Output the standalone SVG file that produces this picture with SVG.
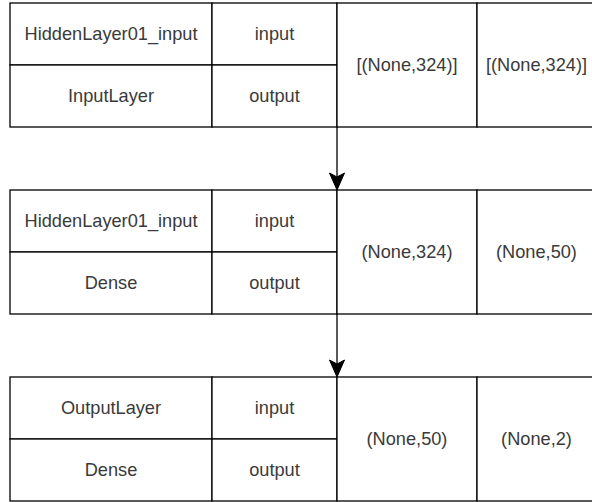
<svg xmlns="http://www.w3.org/2000/svg" width="592" height="502" viewBox="0 0 592 502">
<style>
.cell{fill:#ffffff;stroke:#000000;stroke-width:1.3}
.t{font-family:"Liberation Sans",Arial,sans-serif;font-size:18.2px;fill:#3a3a3a;text-anchor:middle}
.edge{stroke:#000000;stroke-width:1.3;fill:none}
.head{fill:#000000;stroke:#000000;stroke-width:1}
</style>
<rect width="592" height="502" fill="#ffffff"/>
<g id="node-input-layer">
  <rect class="cell" x="10" y="3" width="202" height="62"/>
  <rect class="cell" x="10" y="65" width="202" height="62"/>
  <rect class="cell" x="212" y="3" width="125" height="62"/>
  <rect class="cell" x="212" y="65" width="125" height="62"/>
  <rect class="cell" x="337" y="3" width="140" height="124"/>
  <rect class="cell" x="477" y="3" width="120" height="124"/>
  <text class="t" x="111" y="40">HiddenLayer01_input</text>
  <text class="t" x="111" y="102">InputLayer</text>
  <text class="t" x="274.5" y="40">input</text>
  <text class="t" x="274.5" y="102">output</text>
  <text class="t" x="407" y="71">[(None,324)]</text>
  <text class="t" x="536.5" y="71">[(None,324)]</text>
</g>
<g id="node-hidden-dense">
  <rect class="cell" x="10" y="190" width="202" height="62"/>
  <rect class="cell" x="10" y="252" width="202" height="62"/>
  <rect class="cell" x="212" y="190" width="125" height="62"/>
  <rect class="cell" x="212" y="252" width="125" height="62"/>
  <rect class="cell" x="337" y="190" width="140" height="124"/>
  <rect class="cell" x="477" y="190" width="120" height="124"/>
  <text class="t" x="111" y="227">HiddenLayer01_input</text>
  <text class="t" x="111" y="289">Dense</text>
  <text class="t" x="274.5" y="227">input</text>
  <text class="t" x="274.5" y="289">output</text>
  <text class="t" x="407" y="258">(None,324)</text>
  <text class="t" x="536.5" y="258">(None,50)</text>
</g>
<g id="node-output-dense">
  <rect class="cell" x="10" y="377" width="202" height="62"/>
  <rect class="cell" x="10" y="439" width="202" height="62"/>
  <rect class="cell" x="212" y="377" width="125" height="62"/>
  <rect class="cell" x="212" y="439" width="125" height="62"/>
  <rect class="cell" x="337" y="377" width="140" height="124"/>
  <rect class="cell" x="477" y="377" width="120" height="124"/>
  <text class="t" x="111" y="414">OutputLayer</text>
  <text class="t" x="111" y="476">Dense</text>
  <text class="t" x="274.5" y="414">input</text>
  <text class="t" x="274.5" y="476">output</text>
  <text class="t" x="407" y="445">(None,50)</text>
  <text class="t" x="536.5" y="445">(None,2)</text>
</g>
<g id="connectors">
  <line class="edge" x1="337" y1="127" x2="337" y2="178"/>
  <path class="head" d="M337,190 L329.5,173 L337,177 L344.5,173 Z"/>
  <line class="edge" x1="337" y1="314" x2="337" y2="365"/>
  <path class="head" d="M337,377 L329.5,360 L337,364 L344.5,360 Z"/>
</g>
</svg>
